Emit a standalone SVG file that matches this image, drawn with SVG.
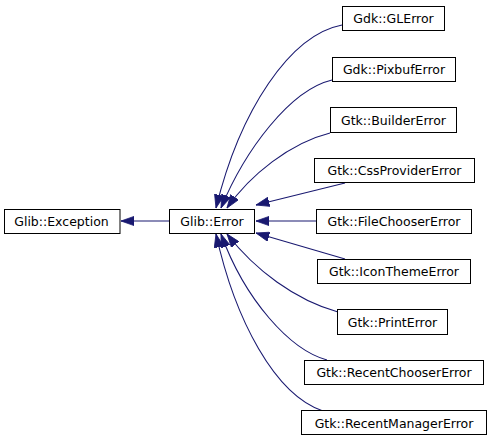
<svg xmlns="http://www.w3.org/2000/svg" width="491" height="443" viewBox="0 0 491 443">
<style>
.box{fill:#fff;stroke:#000;stroke-width:1}
.lbl{font-family:"DejaVu Sans",sans-serif;font-size:12.5px;text-anchor:middle;fill:#000}
.edge{fill:none;stroke:#191970;stroke-width:1.1;marker-end:url(#arr)}
</style>
<defs>
<marker id="arr" markerUnits="userSpaceOnUse" markerWidth="14" markerHeight="10" viewBox="0 0 14 10" refX="13.3" refY="5" orient="auto">
<path d="M0,0.3 L13.3,5 L0,9.7 z" fill="#191970" stroke="#191970" stroke-width="0.8"/>
</marker>
</defs>
<rect width="491" height="443" fill="#fff"/>
<g id="connectors">
<path class="edge" d="M169,221 L121,221"/>
<path class="edge" d="M342,25 C290,35 240,110 216,208"/>
<path class="edge" d="M332,80 C290,90 245,150 221,208"/>
<path class="edge" d="M330,133 C290,143 250,175 227,208"/>
<path class="edge" d="M345,183 L256,205"/>
<path class="edge" d="M316,221 L256,221"/>
<path class="edge" d="M345,259 L256,233"/>
<path class="edge" d="M338,312 C295,300 255,270 227,234"/>
<path class="edge" d="M327,360 C290,350 245,300 221,234"/>
<path class="edge" d="M323,411 C275,395 235,320 216,234"/>
</g>
<g id="node-glib-exception"><rect class="box" x="4.5" y="209.5" width="115.5" height="24"/><text class="lbl" x="61.5" y="226">Glib::Exception</text></g>
<g id="node-glib-error"><rect class="box" x="169.5" y="209.5" width="85" height="24"/><text class="lbl" x="212" y="226">Glib::Error</text></g>
<g id="node-gdk-glerror"><rect class="box" x="342.5" y="6.5" width="102" height="24"/><text class="lbl" x="393.5" y="23">Gdk::GLError</text></g>
<g id="node-gdk-pixbuferror"><rect class="box" x="332.5" y="57.5" width="123" height="24"/><text class="lbl" x="394" y="74">Gdk::PixbufError</text></g>
<g id="node-gtk-buildererror"><rect class="box" x="330.5" y="107.5" width="126" height="25"/><text class="lbl" x="393.5" y="124.5">Gtk::BuilderError</text></g>
<g id="node-gtk-cssprovidererror"><rect class="box" x="314.5" y="158.5" width="160" height="24"/><text class="lbl" x="394.5" y="175">Gtk::CssProviderError</text></g>
<g id="node-gtk-filechoosererror"><rect class="box" x="316.5" y="209.5" width="155" height="24"/><text class="lbl" x="394" y="226">Gtk::FileChooserError</text></g>
<g id="node-gtk-iconthemeerror"><rect class="box" x="317.5" y="259.5" width="153" height="24"/><text class="lbl" x="394" y="276">Gtk::IconThemeError</text></g>
<g id="node-gtk-printerror"><rect class="box" x="337.5" y="309.5" width="110" height="25"/><text class="lbl" x="392.5" y="326.5">Gtk::PrintError</text></g>
<g id="node-gtk-recentchoosererror"><rect class="box" x="304.5" y="360.5" width="179" height="24"/><text class="lbl" x="394" y="377">Gtk::RecentChooserError</text></g>
<g id="node-gtk-recentmanagererror"><rect class="box" x="301.5" y="410.5" width="185" height="24"/><text class="lbl" x="394" y="427.5">Gtk::RecentManagerError</text></g>
</svg>
